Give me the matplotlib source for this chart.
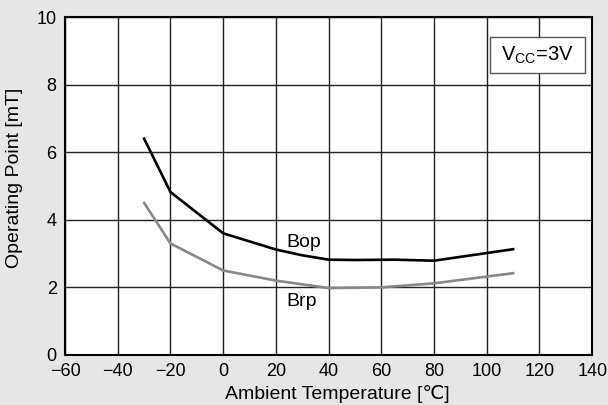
import matplotlib
matplotlib.use("Agg")
import matplotlib.pyplot as plt
from matplotlib.patches import Rectangle

plt.rcParams['font.family'] = ['Liberation Sans', 'DejaVu Sans']
plt.rcParams['axes.unicode_minus'] = True

temp_bop = [-30, -20, 0, 20, 30, 40, 50, 65, 80, 110]
bop = [6.4, 4.82, 3.6, 3.12, 2.95, 2.82, 2.81, 2.82, 2.79, 3.13]
temp_brp = [-30, -20, 0, 20, 40, 60, 80, 110]
brp = [4.5, 3.3, 2.5, 2.2, 1.98, 2.0, 2.12, 2.42]
x_ticks = [-60, -40, -20, 0, 20, 40, 60, 80, 100, 120, 140]
y_ticks = [0, 2, 4, 6, 8, 10]

bg = '#e6e6e6'
fig = plt.figure(figsize=(6.08, 4.05), dpi=100, facecolor=bg)
ax = fig.add_axes([0.107, 0.1235, 0.867, 0.8345])
ax.set_facecolor('white')

ax.plot(temp_bop, bop, color='black', lw=1.9, solid_joinstyle='miter', zorder=3)
ax.plot(temp_brp, brp, color='#888888', lw=1.9, solid_joinstyle='miter', zorder=3)

ax.set_xlim(-60, 140)
ax.set_ylim(0, 10)
ax.set_xticks(x_ticks)
ax.set_yticks(y_ticks)
ax.set_xticklabels([f'\u2212{abs(v)}' if v < 0 else str(v) for v in x_ticks])
ax.tick_params(length=0, labelsize=13)
ax.tick_params(axis='x', pad=6)
ax.tick_params(axis='y', pad=6)
ax.grid(True, color='#222222', lw=1.0)
ax.set_axisbelow(True)
for s in ax.spines.values():
    s.set_color('black')
    s.set_linewidth(1.5)

ax.set_xlabel('Ambient Temperature [\u2103]', fontsize=14)
ax.set_ylabel('Operating Point [mT]', fontsize=14)
ax.xaxis.set_label_coords(0.517, -0.088)
ax.yaxis.set_label_coords(-0.080, 0.524)

ax.text(23.9, 3.2, 'Bop', fontsize=14, ha='left', va='baseline', zorder=4)
ax.text(23.9, 1.45, 'Brp', fontsize=14, ha='left', va='baseline', zorder=4)

rect = Rectangle((0.806, 0.834), 0.181, 0.107, transform=ax.transAxes,
                 facecolor='white', edgecolor='#555555', lw=1.0, zorder=5)
ax.add_patch(rect)
ax.text(0.8965, 0.886, r'V$_{\mathregular{CC}}$=3V', transform=ax.transAxes,
        fontsize=14.5, ha='center', va='center', zorder=6)

fig.savefig('out.png', dpi=100, facecolor=bg)
